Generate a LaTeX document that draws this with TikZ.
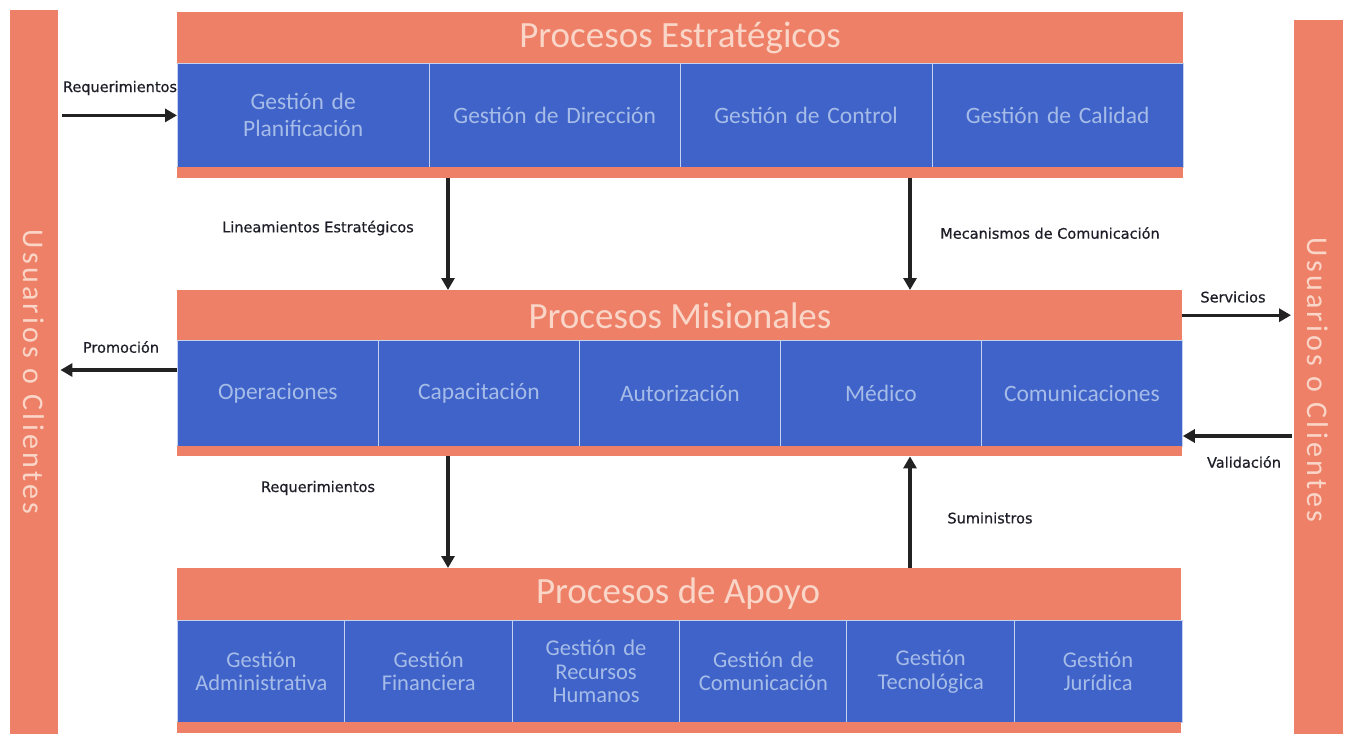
\documentclass[tikz,border=0pt]{standalone}
\usepackage{fontspec}
\setmainfont{Carlito}
\newfontfamily\lblfont[FakeBold=0.6]{DejaVu Sans}
\newfontfamily\vfont[LetterSpace=11]{Carlito}
\usetikzlibrary{arrows.meta,positioning,calc}
\definecolor{salmon}{HTML}{EE8068}
\definecolor{cellblue}{HTML}{3F63C8}
\definecolor{headtxt}{HTML}{FAD6C8}
\definecolor{celltxt}{HTML}{A6BCE8}
\definecolor{arrowcol}{HTML}{222222}
\definecolor{labelcol}{HTML}{1E1E28}
\definecolor{divline}{HTML}{C4D2F0}
\begin{document}
\begin{tikzpicture}[x=1pt,y=-1pt,
  bar/.style={fill=salmon,draw=none,inner sep=0pt,anchor=north west},
  head/.style={fill=salmon,draw=none,inner sep=0pt,anchor=north west},
  headtext/.style={text=headtxt,font=\fontsize{37}{40}\selectfont,inner sep=0pt},
  strip/.style={fill=salmon,draw=none,inner sep=0pt,anchor=north west},
  cell/.style={fill=cellblue,draw=divline,line width=0.8pt,inner sep=2pt,anchor=north west,text=celltxt,align=center,font=\fontsize{23.5}{25}\selectfont},
  arr/.style={draw=arrowcol,line width=3.2pt,-{Triangle[length=12pt,width=13pt]}},
  lbl/.style={text=labelcol,font=\lblfont\fontsize{14.5}{16}\selectfont,inner sep=0pt},
  vtext/.style={text=headtxt,font=\vfont\fontsize{30}{32}\selectfont,rotate=-90,inner sep=0pt}
]
\useasboundingbox (0,0) rectangle (1346,736);
\fill[white] (0,0) rectangle (1346,736);

% side bars
\node[bar,minimum width=48pt,minimum height=724pt] (lbar) at (10,10) {};
\node[bar,minimum width=49pt,minimum height=714pt] (rbar) at (1294,20) {};
\node[vtext] (ltext) at (34,372) {Usuarios o Clientes};
\node[vtext] (rtext) at (1318,380) {Usuarios o Clientes};

% ---- Procesos Estrategicos
\node[head,minimum width=1006pt,minimum height=51pt] (th) at (177,12) {};
\node[headtext] (tht) at (680,38) {Procesos Estratégicos};
\foreach \i/\t in {0/{Gestión de\\Planificación},1/{Gestión de Dirección},2/{Gestión de Control},3/{Gestión de Calidad}}{
  \node[cell,minimum width=251.5pt,minimum height=104pt,text width=244pt,font=\fontsize{23.5}{27}\selectfont] (t\i) at (177+\i*251.5,63) {\t};
}
\node[strip,minimum width=1006pt,minimum height=11pt] (ts) at (177,167) {};

% ---- Procesos Misionales
\node[head,minimum width=1005pt,minimum height=50pt] (mh) at (177,290) {};
\node[headtext] (mht) at (680,316) {Procesos Misionales};
\foreach \i/\t in {0/Operaciones,1/Capacitación,2/Autorización,3/Médico,4/Comunicaciones}{
  \node[cell,minimum width=201pt,minimum height=106pt,text width=196pt] (m\i) at (177+\i*201,340) {\t};
}
\node[strip,minimum width=1005pt,minimum height=10pt] (ms) at (177,446) {};

% ---- Procesos de Apoyo
\node[head,minimum width=1004pt,minimum height=52pt] (bh) at (177,568) {};
\node[headtext] (bht) at (678,594) {Procesos de Apoyo};
\foreach \i/\t in {0/{Gestión\\Administrativa},1/{Gestión\\Financiera},2/{Gestión de\\Recursos\\Humanos},3/{Gestión de\\Comunicación},4/{Gestión\\Tecnológica},5/{Gestión\\Jurídica}}{
  \node[cell,minimum width=167.33pt,minimum height=102pt,text width=164pt,font=\fontsize{22.5}{23.5}\selectfont] (b\i) at (177+\i*167.33,620) {\t};
}
\node[strip,minimum width=1004pt,minimum height=11pt] (bs) at (177,722) {};

% coordinates for arrow lines
\coordinate (xl) at (448,0);
\coordinate (xr) at (910,0);
\coordinate (yprom) at (0,370);
\coordinate (yval) at (0,436);

% arrows
\draw[arr] ([xshift=4pt]lbar.east |- t0.west) -- (t0.west);
\draw[arr] (ts.south -| xl) -- (mh.north -| xl);
\draw[arr] (ts.south -| xr) -- (mh.north -| xr);
\draw[arr] (m0.west |- yprom) -- ([xshift=2pt]lbar.east |- yprom);
\draw[arr] (mh.east) -- ([xshift=-3pt]rbar.west |- mh.east);
\draw[arr] ([xshift=-2pt]rbar.west |- yval) -- (m4.east |- yval);
\draw[arr] (ms.south -| xl) -- (bh.north -| xl);
\draw[arr] (bh.north -| xr) -- (ms.south -| xr);

% labels
\node[lbl] (l1) at (120,88) {Requerimientos};
\node[lbl] (l2) at (318,228) {Lineamientos Estratégicos};
\node[lbl] (l3) at (1050,233) {Mecanismos de Comunicación};
\node[lbl] (l4) at (121,347) {Promoción};
\node[lbl] (l5) at (1233,297) {Servicios};
\node[lbl] (l6) at (1244,462) {Validación};
\node[lbl] (l7) at (318,488) {Requerimientos};
\node[lbl] (l8) at (990,518) {Suministros};
\end{tikzpicture}
\end{document}
